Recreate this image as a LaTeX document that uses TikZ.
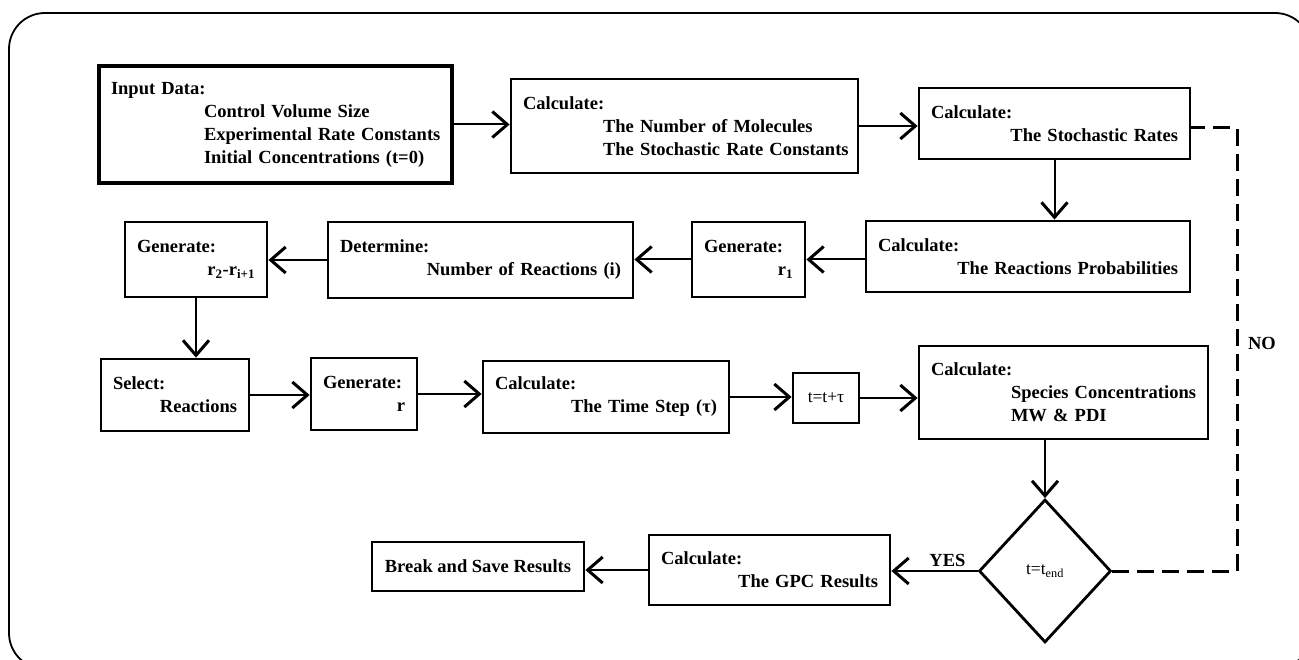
\documentclass[tikz,border=0pt]{standalone}
\usepackage{fontspec}
\setmainfont{Liberation Serif}
\usetikzlibrary{arrows.meta,shapes.geometric}

\begin{document}
\begin{tikzpicture}[x=1pt,y=-1pt,
  box/.style={draw, line width=2.8pt, inner xsep=12pt, inner ysep=0pt, align=left,
    font=\fontsize{18.5}{23}\selectfont\bfseries},
  tbox/.style={draw, line width=2.8pt, inner sep=0pt, font=\fontsize{17.5}{21}\selectfont},
  arr/.style={line width=2pt, -{Straight Barb[length=15pt,width=26pt,line width=3pt]}},
  noline/.style={line width=3pt, dash pattern=on 17pt off 8pt},
  lbl/.style={font=\fontsize{18.5}{23}\selectfont\bfseries}]
\useasboundingbox (0,0) rectangle (1299,660);
\clip (0,0) rectangle (1299,660);

% frame
\draw[line width=1.8pt, rounded corners=36pt] (9,13) rectangle (1311,669);

% first row
\node[box, line width=3.5pt, text width=329pt, minimum height=117pt] (inp) at (275.5,124.5)
  {Input Data:\\\hspace*{93pt}\mbox{Control Volume Size}\\\hspace*{93pt}\mbox{Experimental Rate Constants}\\\hspace*{93pt}\mbox{Initial Concentrations (t=0)}};
\node[box, text width=323pt, minimum height=94pt] (mol) at (684.5,126)
  {Calculate:\\\hspace*{80pt}\mbox{The Number of Molecules}\\\hspace*{80pt}\mbox{The Stochastic Rate Constants}};
\node[box, text width=247pt, minimum height=71pt] (stoch) at (1054.5,123.5)
  {Calculate:\\\hspace*{\fill}The Stochastic Rates};

% second row
\node[box, text width=300pt, minimum height=71pt] (prob) at (1028,256.5)
  {Calculate:\\\hspace*{\fill}The Reactions Probabilities};
\node[box, text width=89pt, minimum height=75pt] (gen1) at (748.5,259.5)
  {Generate:\\\hspace*{\fill}r\textsubscript{1}};
\node[box, text width=281pt, minimum height=76pt] (det) at (480.5,260)
  {Determine:\\\hspace*{\fill}Number of Reactions (i)};
\node[box, text width=118pt, minimum height=75pt] (gen2) at (196,259.5)
  {Generate:\\\hspace*{\fill}r\textsubscript{2}-r\textsubscript{i+1}};

% third row
\node[box, text width=124pt, minimum height=72pt] (sel) at (175,395)
  {Select:\\\hspace*{\fill}Reactions};
\node[box, text width=82pt, minimum height=72pt] (genr) at (364,394)
  {Generate:\\\hspace*{\fill}r};
\node[box, text width=222pt, minimum height=72pt] (time) at (606,397)
  {Calculate:\\\hspace*{\fill}The Time Step (τ)};
\node[tbox, minimum width=66pt, minimum height=50pt] (tt) at (826,398) {t=t+τ};
\node[box, text width=265pt, minimum height=93pt] (spec) at (1063.5,392.5)
  {Calculate:\\\hspace*{80pt}\mbox{Species Concentrations}\\\hspace*{80pt}MW \& PDI};

% last row
\node[tbox, diamond, minimum width=132pt, minimum height=143pt] (dec) at (1045,571) {t=t\textsubscript{end}};
\node[box, text width=217pt, minimum height=70pt] (gpc) at (769.5,570)
  {Calculate:\\\hspace*{\fill}The GPC Results};
\node[box, inner sep=0pt, minimum width=212pt, minimum height=49pt] (brk) at (478,566.5)
  {Break and Save Results};

% arrows
\draw[arr] (inp.east) -- (mol.west |- inp.east);
\draw[arr] (mol.east) -- (stoch.west |- mol.east);
\draw[arr] (stoch.south) -- (stoch.south |- prob.north);
\draw[arr] (prob.west |- gen1.east) -- (gen1.east);
\draw[arr] (gen1.west) -- (det.east |- gen1.west);
\draw[arr] (det.west) -- (gen2.east |- det.west);
\draw[arr] (gen2.south) -- (gen2.south |- sel.north);
\draw[arr] (sel.east) -- (genr.west |- sel.east);
\draw[arr] (genr.east) -- (time.west |- genr.east);
\draw[arr] (time.east) -- (tt.west |- time.east);
\draw[arr] (tt.east) -- (spec.west |- tt.east);
\draw[arr] (dec.north |- spec.south) -- (dec.north);
\draw[arr] (dec.west) -- (gpc.east |- dec.west) node[lbl, pos=0.35, yshift=11pt] (yes) {YES};
\draw[arr] (gpc.west) -- (brk.east |- gpc.west);

% NO loop
\coordinate (back) at (1237,128);
\draw[noline] (dec.east) -| (back) -- (stoch.east |- back);
\node[lbl] (no) at (1262,343) {NO};
\end{tikzpicture}
\end{document}
